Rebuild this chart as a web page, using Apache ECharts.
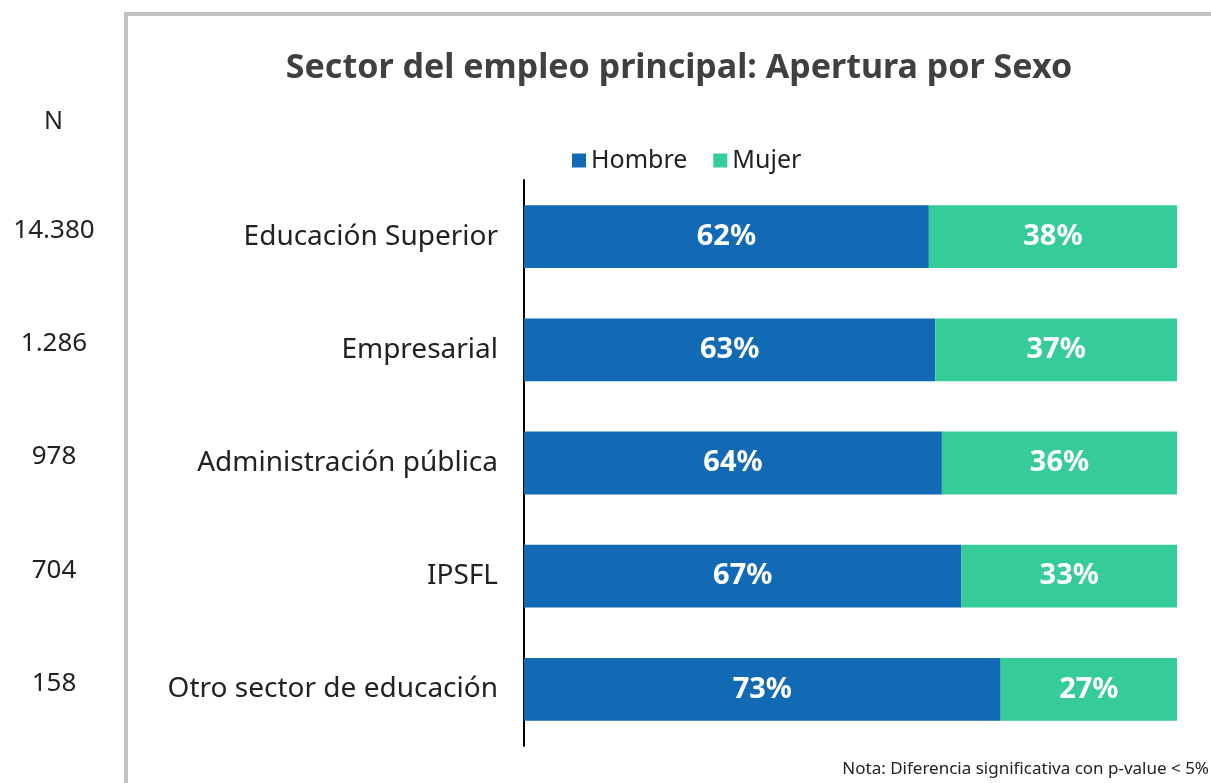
<!DOCTYPE html>
<html>
<head>
<meta charset="utf-8">
<script src="https://cdn.jsdelivr.net/npm/echarts@6/dist/echarts.min.js"></script>
<style>
  html, body { margin: 0; padding: 0; background: #fff; }
  #main { width: 1211px; height: 783px; }
</style>
</head>
<body>
<div id="main"></div>
<script>
  // sectores y tamaño de muestra
  var sectores = ['Educación Superior', 'Empresarial', 'Administración pública', 'IPSFL', 'Otro sector de educación'];
  var nMuestra = ['14.380', '1.286', '978', '704', '158'];
  var hombre = [62, 63, 64, 67, 73];
  var mujer = [38, 37, 36, 33, 27];

  var fuente = '"Noto Sans", sans-serif';
  var myChart = echarts.init(document.getElementById('main'));
  var option = {
    animation: false,
    title: {
      text: 'Sector del empleo principal: Apertura por Sexo',
      left: 674,
      textAlign: 'center',
      top: 46,
      textStyle: { fontFamily: fuente, fontSize: 34, fontWeight: 'bold', color: '#404040' }
    },
    legend: {
      top: 143,
      left: 567,
      itemWidth: 14,
      itemHeight: 14,
      itemGap: 26,
      icon: 'rect',
      textStyle: { fontFamily: fuente, fontSize: 25, color: '#222' },
      data: ['Hombre', 'Mujer']
    },
    graphic: [
      { type: 'line', shape: { x1: 126, y1: 14, x2: 126, y2: 783 }, style: { stroke: '#c3c3c3', lineWidth: 4 } },
      { type: 'line', shape: { x1: 124, y1: 14, x2: 1211, y2: 14 }, style: { stroke: '#c3c3c3', lineWidth: 4 } },
      { type: 'text', left: 44, top: 109, style: { text: 'N', font: '25px ' + fuente, fill: '#222' } },
      { type: 'text', right: 2, top: 761, style: { text: 'Nota: Diferencia significativa con p-value < 5%', font: '17px ' + fuente, fill: '#222' } }
    ],
    grid: { left: 524, right: 34, top: 180, bottom: 37, containLabel: false },
    xAxis: { type: 'value', min: 0, max: 100, show: false },
    yAxis: [
      {
        type: 'category',
        inverse: true,
        data: sectores,
        axisLine: { lineStyle: { color: '#000', width: 2 } },
        axisTick: { show: false },
        axisLabel: { fontFamily: fuente, fontSize: 28, color: '#222', margin: 26 }
      },
      {
        type: 'category',
        inverse: true,
        position: 'left',
        offset: 470,
        data: nMuestra,
        axisLine: { show: false },
        axisTick: { show: false },
        axisLabel: { fontFamily: fuente, fontSize: 26, color: '#222', margin: 0, align: 'center', verticalAlign: 'bottom', lineHeight: 12 }
      }
    ],
    series: [
      {
        name: 'Hombre',
        type: 'bar',
        stack: 'total',
        barWidth: '55.5%',
        data: hombre,
        itemStyle: { color: '#1269b4' },
        label: { show: true, position: 'inside', formatter: '{c}%', fontFamily: fuente, fontSize: 29, fontWeight: 'bold', color: '#fff' }
      },
      {
        name: 'Mujer',
        type: 'bar',
        stack: 'total',
        data: mujer,
        itemStyle: { color: '#35cc98' },
        label: { show: true, position: 'inside', formatter: '{c}%', fontFamily: fuente, fontSize: 29, fontWeight: 'bold', color: '#fff' }
      }
    ]
  };
  myChart.setOption(option);
</script>
</body>
</html>
